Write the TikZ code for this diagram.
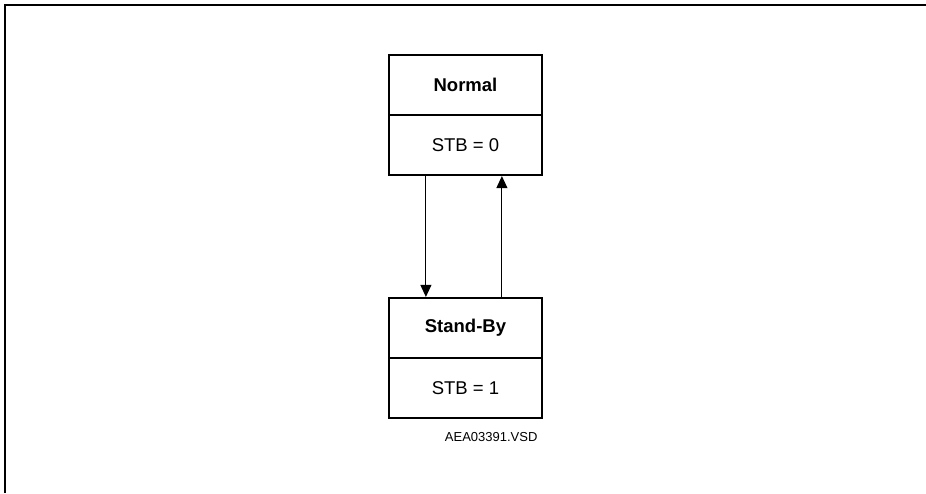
\documentclass[tikz,border=0pt]{standalone}
\usepackage{fontspec}
\setmainfont{Liberation Sans}
\usetikzlibrary{arrows.meta}
\begin{document}
\begin{tikzpicture}[x=1pt,y=-1pt,
  cell/.style={draw,line width=2.2pt,minimum width=153pt,minimum height=60pt,inner sep=0pt,font=\fontsize{18.5}{20}\selectfont},
  conn/.style={line width=1pt,-{Triangle[width=11pt,length=12pt]}}]
\useasboundingbox (0,0) rectangle (926,493);
\draw[line width=2pt] (4.5,493) -- (4.5,4.5) -- (926,4.5);
\node[cell] (n1) at (465.5,85) {\textbf{Normal}};
\node[cell] (n2) at (465.5,145) {STB = 0};
\node[cell] (s1) at (465.5,328) {\textbf{Stand-By}};
\node[cell] (s2) at (465.5,388) {STB = 1};
\draw[conn] ([xshift=38pt]n2.south west) -- ([xshift=38pt]s1.north west);
\draw[conn] ([xshift=114pt]s1.north west) -- ([xshift=114pt]n2.south west);
\node[font=\fontsize{13}{14}\selectfont,anchor=east] (lbl) at (541,437) {AEA03391.VSD};
\end{tikzpicture}
\end{document}
